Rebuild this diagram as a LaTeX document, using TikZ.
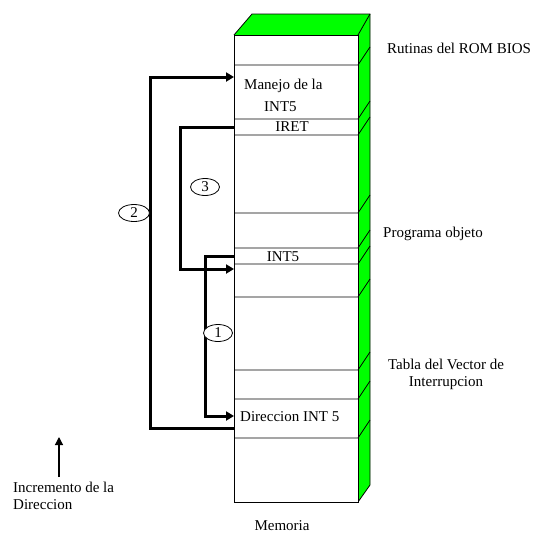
\documentclass[tikz,border=0pt]{standalone}
\usepackage{fontspec}
\setmainfont{Liberation Serif}
\usetikzlibrary{arrows.meta,positioning,calc,shapes.geometric}

\begin{document}
\begin{tikzpicture}[
    x=1pt,y=-1pt,
    font=\fontsize{15}{17}\selectfont,
    lbl/.style={inner sep=0pt, anchor=west},
    num/.style={ellipse, draw, line width=0.8pt, fill=white, inner sep=0pt, minimum width=29pt, minimum height=17pt},
    link/.style={-{Triangle[length=8pt,width=9pt]}, line width=3pt},
    cell/.style={draw, line width=0.8pt}
  ]
    % Rahmen
    \useasboundingbox (0,0) rectangle (533,533);

    % Speicherblock (Front, Deckel, Seite)
    \fill[green] (234,35) -- (252,14) -- (370,14) -- (370,485) -- (358,502) -- (358,35) -- cycle;
    \draw[line width=0.8pt] (234,35) -- (252,14) -- (370,14) -- (370,485) -- (358,502);
    \draw[line width=0.8pt] (358,35) -- (370,14);
    \draw[cell, fill=white] (234,35) rectangle (358,502);
    \foreach \yy in {65,119,135,213,248,264,297,370,399,438}
      \draw[line width=0.8pt] (234,\yy) -- (358,\yy) -- (370,\yy-18);

    % Texte im Block
    \node[lbl] (manejo) at (244,86) {Manejo de la};
    \node[lbl] (int5a)  at (264,107) {INT5};
    \node (iret)  at (292,127) [inner sep=0pt] {IRET};
    \node (int5b) at (283,257) [inner sep=0pt] {INT5};
    \node[lbl] (dir)   at (240,417) {Direccion INT 5};
    \node (mem)   at (282,526) [inner sep=0pt] {Memoria};

    % Beschriftung rechts
    \node[lbl] (rom)  at (387,48)  {Rutinas del ROM BIOS};
    \node[lbl] (prog) at (383,234) {Programa objeto};
    \node[inner sep=0pt, align=center] (tabla) at (446,374) {Tabla del Vector de\\Interrupcion};

    % Richtung
    \node[inner sep=0pt, align=left, anchor=north west] (incr) at (13,482) {Incremento de la\\Direccion};
    \coordinate (up0) at (59,477);
    \coordinate (up1) at (59,437);
    \draw[-{Triangle[length=8pt,width=8pt]}, line width=1.2pt] (up0) -- (up1);

    % Ecken der Pfeile
    \coordinate (s1) at (234,256); \coordinate (k1) at (205,416); \coordinate (t1) at (234,416);
    \coordinate (s2) at (234,428); \coordinate (k2) at (150,77);  \coordinate (t2) at (234,77);
    \coordinate (s3) at (234,127); \coordinate (k3) at (180,269); \coordinate (t3) at (234,269);

    \draw[link] (s1) -| (k1) -- (t1);
    \draw[link] (s2) -| (k2) -- (t2);
    \draw[link] (s3) -| (k3) -- (t3);

    % Nummern
    \node[num] (c1) at (218,333) {1};
    \node[num, minimum width=31pt] (c2) at (134,213) {2};
    \node[num] (c3) at (205,187) {3};
  \end{tikzpicture}
\end{document}
